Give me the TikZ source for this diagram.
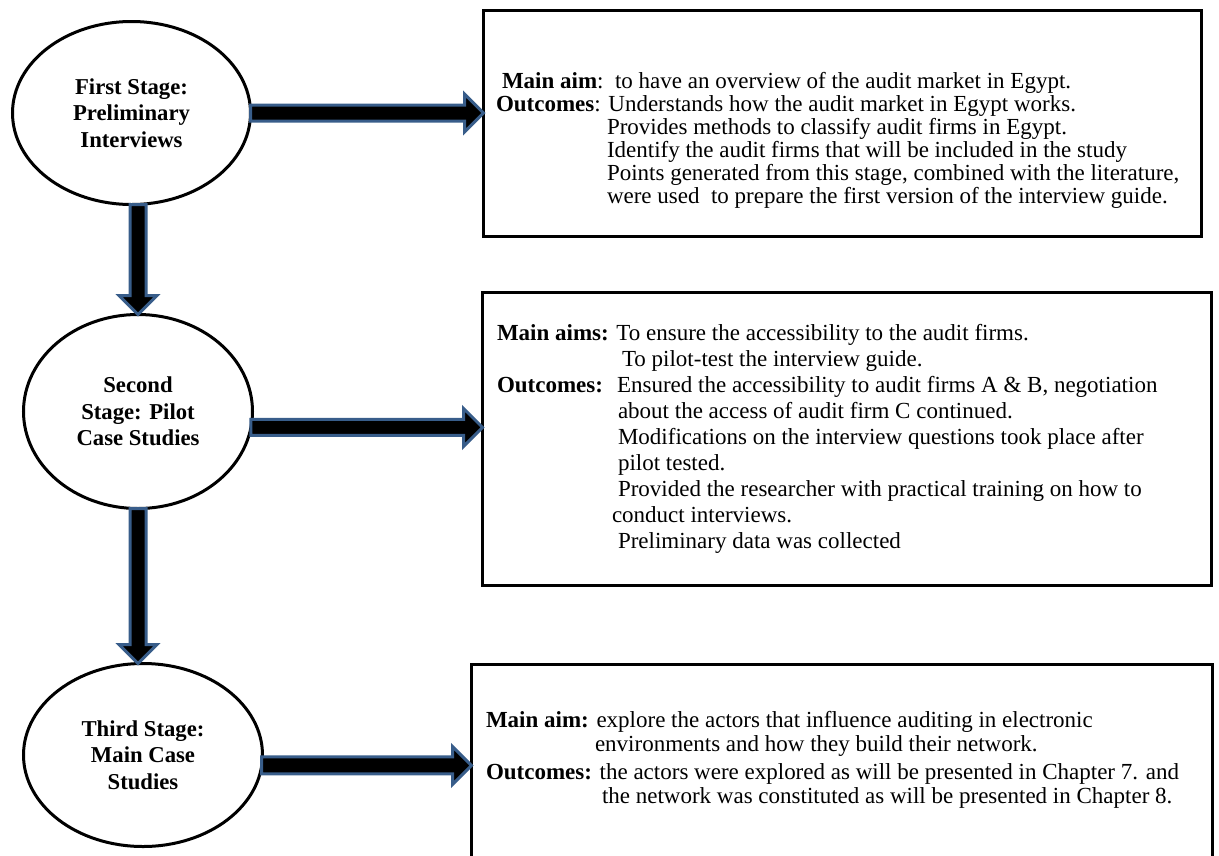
\documentclass[tikz,border=0pt]{standalone}
\usepackage{fontspec}
\setmainfont{Liberation Serif}
\usetikzlibrary{shapes.geometric,calc}
\definecolor{arrowblue}{RGB}{56,93,138}
\tikzset{
  stage/.style={ellipse, draw=black, line width=3pt, fill=white, inner sep=0pt, outer sep=0pt,
    align=center, font=\bfseries\fontsize{22.7}{26.5}\selectfont},
  infobox/.style={rectangle, draw=black, line width=3pt, fill=white, inner sep=0pt, outer sep=0pt},
  fatarrow/.style={fill=black, draw=arrowblue, line width=3pt, line join=miter},
  txtline/.style={inner sep=0pt, outer sep=0pt, anchor=base west, font=\fontsize{23}{26}\selectfont}
}
\begin{document}
\begin{tikzpicture}[x=1pt,y=-1pt]
\useasboundingbox (0,0) rectangle (1219,855);
\clip (0,0) rectangle (1219,855);

% stages
\node[stage, minimum width=238pt, minimum height=183pt] (e1) at (131.5,113)
  {First Stage:\\Preliminary\\Interviews};
\node[stage, minimum width=229pt, minimum height=194pt] (e2) at (138,411.5)
  {Second\\Stage: Pilot\\Case Studies};
\node[stage, minimum width=239pt, minimum height=183pt] (e3) at (143,755)
  {Third Stage:\\Main Case\\Studies};

% description boxes
\node[infobox, minimum width=718pt, minimum height=226.5pt] (b1) at (842.5,123.25) {};
\node[infobox, minimum width=729pt, minimum height=293pt] (b2) at (847,439) {};
\node[infobox, minimum width=741pt, minimum height=216pt] (b3) at (842,772) {};

% first stage text
\node[txtline] (a1) at (502,88) {\textbf{Main aim}:\ \ to have an overview of the audit market in Egypt.};
\node[txtline] (a2) at (496,111) {\textbf{Outcomes}: Understands how the audit market in Egypt works.};
\node[txtline] (a3) at (607,134) {Provides methods to classify audit firms in Egypt.};
\node[txtline] (a4) at (607,157) {Identify the audit firms that will be included in the study};
\node[txtline] (a5) at (607,180) {Points generated from this stage, combined with the literature,};
\node[txtline] (a6) at (607,203) {were used\ \ to prepare the first version of the interview guide.};

% second stage text
\node[txtline] (c1) at (497,340) {\textbf{Main aims:} To ensure the accessibility to the audit firms.};
\node[txtline] (c2) at (622,366) {To pilot-test the interview guide.};
\node[txtline] (c3) at (497,392) {\textbf{Outcomes:}\hspace{14pt}Ensured the accessibility to audit firms A \& B, negotiation};
\node[txtline] (c4) at (618,418) {about the access of audit firm C continued.};
\node[txtline] (c5) at (618,444) {Modifications on the interview questions took place after};
\node[txtline] (c6) at (618,470) {pilot tested.};
\node[txtline] (c7) at (618,496) {Provided the researcher with practical training on how to};
\node[txtline] (c8) at (612,522) {conduct interviews.};
\node[txtline] (c9) at (618,548) {Preliminary data was collected};

% third stage text
\node[txtline] (d1) at (486,727) {\textbf{Main aim:} explore the actors that influence auditing in electronic};
\node[txtline] (d2) at (595,751) {environments and how they build their network.};
\node[txtline] (d3) at (486,779) {\textbf{Outcomes:} the actors were explored as will be presented in Chapter 7. and};
\node[txtline] (d4) at (602,803) {the network was constituted as will be presented in Chapter 8.};

% block arrows from each stage to its box
\path[fatarrow] let \p1=(e1.east), \p2=(b1.west) in
  (\x1,\y1+8pt) -- (\x2-19pt,\y1+8pt) -- (\x2-19pt,\y1+19pt) -- (\x2,\y1)
  -- (\x2-19pt,\y1-19pt) -- (\x2-19pt,\y1-8pt) -- (\x1,\y1-8pt) -- cycle;
\path[fatarrow] let \p1=(e2.-8.7), \p2=(b2.west) in
  (\x1,\y1+8pt) -- (\x2-19pt,\y1+8pt) -- (\x2-19pt,\y1+19pt) -- (\x2,\y1)
  -- (\x2-19pt,\y1-19pt) -- (\x2-19pt,\y1-8pt) -- (\x1,\y1-8pt) -- cycle;
\path[fatarrow] let \p1=(e3.-5.3), \p2=(b3.west) in
  (\x1,\y1+8.5pt) -- (\x2-19pt,\y1+8.5pt) -- (\x2-19pt,\y1+19pt) -- (\x2,\y1)
  -- (\x2-19pt,\y1-19pt) -- (\x2-19pt,\y1-8.5pt) -- (\x1,\y1-8.5pt) -- cycle;

% block arrows between stages
\path[fatarrow] let \p1=(e1.south), \p2=(e2.north) in
  (\x2-8pt,\y1) -- (\x2-8pt,\y2+19pt) -- (\x2-19pt,\y2+19pt) -- (\x2,\y2)
  -- (\x2+19pt,\y2+19pt) -- (\x2+8pt,\y2+19pt) -- (\x2+8pt,\y1) -- cycle;
\path[fatarrow] let \p1=(e2.south), \p2=(e3.north) in
  (\x1-8pt,\y1) -- (\x1-8pt,\y2+19pt) -- (\x1-19pt,\y2+19pt) -- (\x1,\y2)
  -- (\x1+19pt,\y2+19pt) -- (\x1+8pt,\y2+19pt) -- (\x1+8pt,\y1) -- cycle;
\end{tikzpicture}
\end{document}
